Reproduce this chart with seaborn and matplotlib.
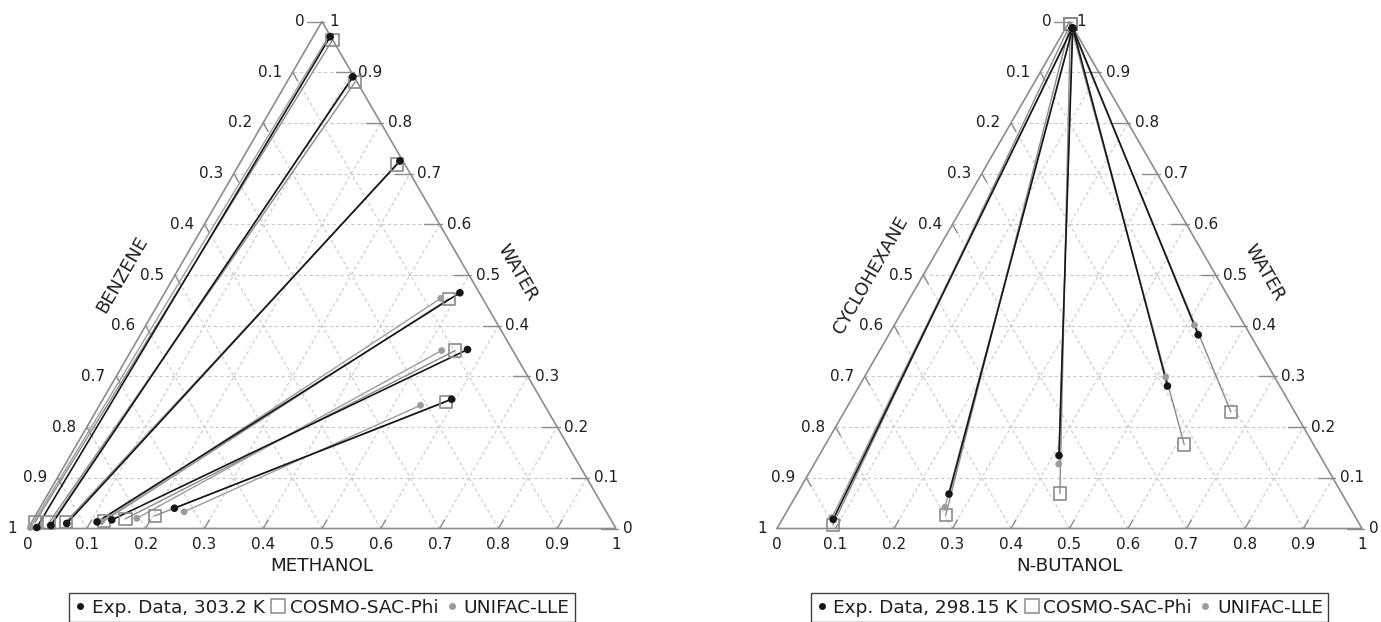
import numpy as np
import pandas as pd
import matplotlib
matplotlib.use("Agg")
import matplotlib.pyplot as plt
from matplotlib.lines import Line2D
import seaborn as sns

# ---------------- data (mole fractions) ----------------
# Left: benzene (left axis) / methanol (bottom axis) / water (right axis), 303.2 K
L_EXP_AQ_METHANOL = [0.029, 0.107, 0.270, 0.502, 0.571, 0.593]
L_EXP_AQ_WATER = [0.970, 0.891, 0.725, 0.465, 0.353, 0.255]
L_EXP_ORG_METHANOL = [0.014, 0.036, 0.061, 0.111, 0.134, 0.229]
L_EXP_ORG_WATER = [0.002, 0.006, 0.010, 0.013, 0.017, 0.040]

L_COSMO_AQ_METHANOL = [0.036, 0.116, 0.269, 0.489, 0.551, 0.586]
L_COSMO_AQ_WATER = [0.964, 0.881, 0.718, 0.453, 0.351, 0.250]
L_COSMO_ORG_METHANOL = [0.006, 0.030, 0.058, 0.122, 0.156, 0.203]
L_COSMO_ORG_WATER = [0.012, 0.012, 0.013, 0.015, 0.019, 0.025]

L_UNIFAC_AQ_METHANOL = [0.026, 0.108, 0.270, 0.475, 0.528, 0.546]
L_UNIFAC_AQ_WATER = [0.972, 0.890, 0.724, 0.454, 0.351, 0.243]
L_UNIFAC_ORG_METHANOL = [0.003, 0.034, 0.060, 0.118, 0.175, 0.249]
L_UNIFAC_ORG_WATER = [0.002, 0.006, 0.010, 0.014, 0.020, 0.033]

# Right: cyclohexane (left axis) / n-butanol (bottom axis) / water (right axis), 298.15 K
R_EXP_AQ_BUTANOL = [0.011, 0.012, 0.012, 0.013, 0.013]
R_EXP_AQ_WATER = [0.987, 0.987, 0.987, 0.986, 0.986]
R_EXP_ORG_BUTANOL = [0.087, 0.260, 0.410, 0.527, 0.529]
R_EXP_ORG_WATER = [0.018, 0.068, 0.144, 0.281, 0.382]

R_COSMO_AQ_BUTANOL = [0.004, 0.004, 0.004, 0.004, 0.004]
R_COSMO_AQ_WATER = [0.995, 0.995, 0.995, 0.995, 0.995]
R_COSMO_ORG_BUTANOL = [0.092, 0.275, 0.449, 0.613, 0.661]
R_COSMO_ORG_WATER = [0.007, 0.027, 0.069, 0.166, 0.230]

R_UNIFAC_AQ_BUTANOL = [0.012, 0.012, 0.012, 0.013, 0.013]
R_UNIFAC_AQ_WATER = [0.986, 0.986, 0.986, 0.985, 0.985]
R_UNIFAC_ORG_BUTANOL = [0.083, 0.266, 0.418, 0.515, 0.513]
R_UNIFAC_ORG_WATER = [0.022, 0.042, 0.127, 0.299, 0.401]

TICKS = [0, 0.1, 0.2, 0.3, 0.4, 0.5, 0.6, 0.7, 0.8, 0.9, 1]
TICK_LABELS = ["0", "0.1", "0.2", "0.3", "0.4", "0.5", "0.6", "0.7", "0.8", "0.9", "1"]

# ---------------- style ----------------
sns.set_theme(style="white")
plt.rcParams["font.family"] = ["DejaVu Sans"]

BLACK = "#161616"
EDGE = "#8c8c8c"
GRID = "#c9c9c9"
SQ = "#8a8a8a"
GDOT = "#9c9c9c"
TXT = "#1e1e1e"


def cart(bottom, water):
    b = np.asarray(bottom, float)
    w = np.asarray(water, float)
    return b + w / 2.0, w


def tie_frame(aq_b, aq_w, org_b, org_w):
    xa, ya = cart(aq_b, aq_w)
    xo, yo = cart(org_b, org_w)
    rows = []
    for i in range(len(xa)):
        rows.append({"X": xa[i], "Y": ya[i], "tie": i, "phase": "aq"})
        rows.append({"X": xo[i], "Y": yo[i], "tie": i, "phase": "org"})
    return pd.DataFrame(rows)


def draw_frame(ax, left_name, bottom_name, right_name):
    ax.set_xlim(0, 1)
    ax.set_ylim(0, 1)
    ax.axis("off")
    dash = (0, (3, 2.5))
    for k in TICKS[1:-1]:
        ax.plot([k / 2, 1 - k / 2], [k, k], color=GRID, lw=0.8, ls=dash, zorder=1)
        ax.plot([k, k + (1 - k) / 2], [0, 1 - k], color=GRID, lw=0.8, ls=dash, zorder=1)
        ax.plot([1 - k, (1 - k) / 2], [0, 1 - k], color=GRID, lw=0.8, ls=dash, zorder=1)
    ax.plot([0, 1, 0.5, 0], [0, 0, 1, 0], color=EDGE, lw=1.2, zorder=2, clip_on=False,
            solid_joinstyle="miter")
    fs = 11
    d = 0.017
    for k, lab in zip(TICKS, TICK_LABELS):
        if 0 < k < 1:
            ax.plot([k, k + d / 2], [0, d], color=EDGE, lw=1.0, zorder=2)
            y0 = 1 - k
            ax.plot([y0 / 2, y0 / 2 + d / 2], [y0, y0 - d], color=EDGE, lw=1.0, zorder=2)
        xe = 1 - k / 2
        ax.plot([xe + 0.004, xe - 0.026], [k, k], color=EDGE, lw=1.0, zorder=2, clip_on=False)
        ax.text(k, -0.031, lab, ha="center", va="center", fontsize=fs, color=TXT)
        ax.text(xe + 0.012, k, lab, ha="left", va="center", fontsize=fs, color=TXT)
        lx = (1 - k) / 2 - (0.03 if k == 0 else 0.018)
        ax.text(lx, 1 - k, lab, ha="right", va="center", fontsize=fs, color=TXT)
    ax.text(0.5, -0.074, bottom_name, ha="center", va="center", fontsize=13.2, color=TXT)
    ax.text(0.160, 0.50, left_name, ha="center", va="center", rotation=60, fontsize=13.0,
            color=TXT, rotation_mode="anchor")
    ax.text(0.833, 0.505, right_name, ha="center", va="center", rotation=-60, fontsize=13.0,
            color=TXT, rotation_mode="anchor")


def draw_system(ax, exp, cosmo, unifac, temp_label, left_name, bottom_name, right_name):
    draw_frame(ax, left_name, bottom_name, right_name)
    df_c = tie_frame(*cosmo)
    df_u = tie_frame(*unifac)
    df_e = tie_frame(*exp)
    sns.lineplot(data=df_c, x="X", y="Y", units="tie", estimator=None, sort=False,
                 color=SQ, lw=1.0, ax=ax, legend=False, zorder=3)
    sns.lineplot(data=df_u, x="X", y="Y", units="tie", estimator=None, sort=False,
                 color=GDOT, lw=1.0, ax=ax, legend=False, zorder=3)
    sns.lineplot(data=df_e, x="X", y="Y", units="tie", estimator=None, sort=False,
                 color=BLACK, lw=1.2, ax=ax, legend=False, zorder=4)
    sns.scatterplot(data=df_c, x="X", y="Y", marker="s", s=80, facecolor="none",
                    edgecolor=SQ, linewidth=1.2, ax=ax, legend=False, zorder=5, clip_on=False)
    sns.scatterplot(data=df_u, x="X", y="Y", marker="o", s=24, color=GDOT, edgecolor="none",
                    ax=ax, legend=False, zorder=6, clip_on=False)
    sns.scatterplot(data=df_e, x="X", y="Y", marker="o", s=30, color=BLACK, edgecolor="none",
                    ax=ax, legend=False, zorder=7, clip_on=False)
    ax.set_xlim(0, 1)
    ax.set_ylim(0, 1)
    ax.set_xlabel("")
    ax.set_ylabel("")
    handles = [
        Line2D([], [], ls="none", marker="o", ms=5, color=BLACK, mec="none"),
        Line2D([], [], ls="none", marker="s", ms=10, mfc="none", mec=SQ, mew=1.1),
        Line2D([], [], ls="none", marker="o", ms=5, color=GDOT, mec="none"),
    ]
    labels = [f"Exp. Data, {temp_label}", "COSMO-SAC-Phi", "UNIFAC-LLE"]
    leg = ax.legend(handles, labels, loc="upper center", bbox_to_anchor=(0.5, -0.128),
                    ncol=3, frameon=True, fancybox=False, edgecolor="#111111",
                    fontsize=13.3, handlelength=0.6, handletextpad=0.32, columnspacing=0.45,
                    borderpad=0.28, borderaxespad=0.0)
    leg.get_frame().set_linewidth(1.0)
    for t in leg.get_texts():
        t.set_color(TXT)


W, H = 1381, 622
fig = plt.figure(figsize=(W / 100, H / 100), dpi=100)
base_y = 528.5
tri_h = 507.0
axL = fig.add_axes([28 / W, (H - base_y) / H, 588 / W, tri_h / H])
axR = fig.add_axes([777 / W, (H - base_y) / H, 585 / W, tri_h / H])

draw_system(axL,
            (L_EXP_AQ_METHANOL, L_EXP_AQ_WATER, L_EXP_ORG_METHANOL, L_EXP_ORG_WATER),
            (L_COSMO_AQ_METHANOL, L_COSMO_AQ_WATER, L_COSMO_ORG_METHANOL, L_COSMO_ORG_WATER),
            (L_UNIFAC_AQ_METHANOL, L_UNIFAC_AQ_WATER, L_UNIFAC_ORG_METHANOL, L_UNIFAC_ORG_WATER),
            "303.2 K", "BENZENE", "METHANOL", "WATER")
draw_system(axR,
            (R_EXP_AQ_BUTANOL, R_EXP_AQ_WATER, R_EXP_ORG_BUTANOL, R_EXP_ORG_WATER),
            (R_COSMO_AQ_BUTANOL, R_COSMO_AQ_WATER, R_COSMO_ORG_BUTANOL, R_COSMO_ORG_WATER),
            (R_UNIFAC_AQ_BUTANOL, R_UNIFAC_AQ_WATER, R_UNIFAC_ORG_BUTANOL, R_UNIFAC_ORG_WATER),
            "298.15 K", "CYCLOHEXANE", "N-BUTANOL", "WATER")

fig.savefig("out.png", dpi=100, facecolor="white")
